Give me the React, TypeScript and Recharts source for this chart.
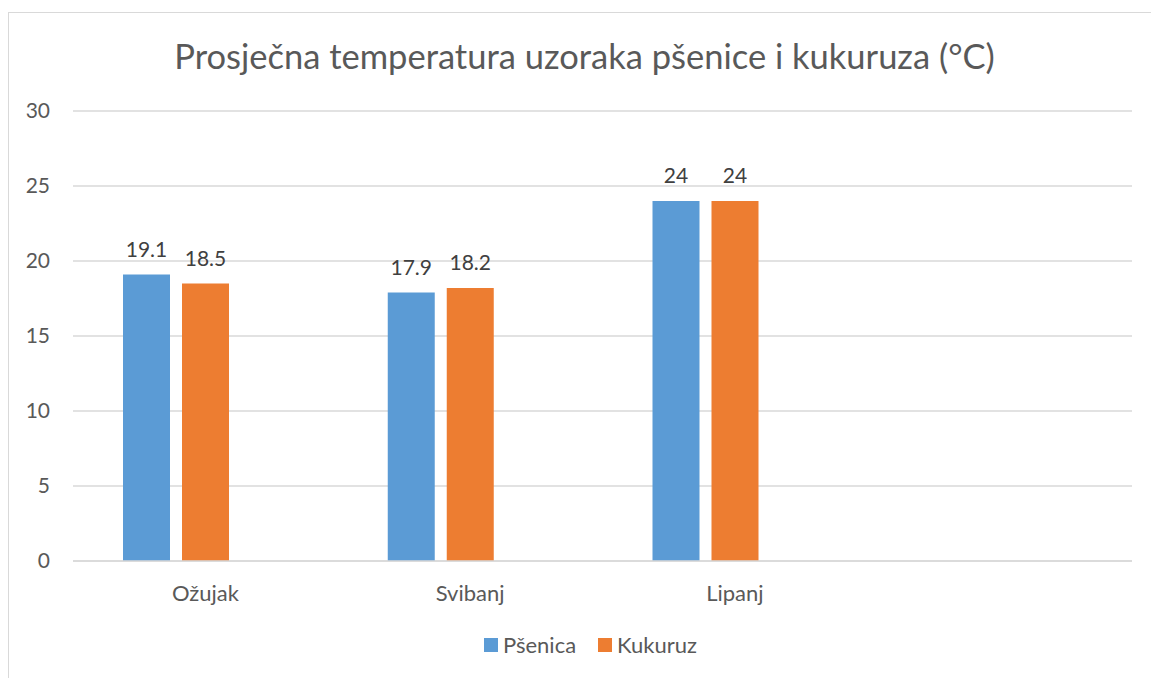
import React from 'react';
import { BarChart, Bar, XAxis, YAxis, CartesianGrid, Legend, LabelList } from 'recharts';

const categories = ['Ožujak', 'Svibanj', 'Lipanj', ''];
const psenica = [19.1, 17.9, 24, null];
const kukuruz = [18.5, 18.2, 24, null];
const prazno = [null, null, null, null];
const yTicks = [0, 5, 10, 15, 20, 25, 30];
const seriesOrder = ['psenica', 'kukuruz'];
const seriesNames = { psenica: 'Pšenica', kukuruz: 'Kukuruz' };
const title = 'Prosječna temperatura uzoraka pšenice i kukuruza (°C)';

const data = categories.map((c, i) => ({
  name: c,
  psenica: psenica[i],
  kukuruz: kukuruz[i],
  prazno: prazno[i],
}));

const FONT = 'Lato, "Open Sans", sans-serif';

const renderLegend = (props: any) => {
  const items = (props.payload || [])
    .filter((p: any) => seriesOrder.includes(p.dataKey))
    .sort((a: any, b: any) => seriesOrder.indexOf(a.dataKey) - seriesOrder.indexOf(b.dataKey));
  return (
    <div style={{ display: 'flex', alignItems: 'center', height: 30, fontFamily: FONT, fontSize: 22, color: '#595959', lineHeight: '30px' }}>
      {items.map((p: any, i: number) => (
        <div key={i} style={{ display: 'flex', alignItems: 'center', marginRight: i < items.length - 1 ? 22 : 0 }}>
          <div style={{ width: 14, height: 14, background: p.color, marginRight: 5 }} />
          <span>{p.value}</span>
        </div>
      ))}
    </div>
  );
};

export default function App() {
  return (
    <div style={{ position: 'absolute', left: 0, top: 0, width: 1151, height: 678, background: '#fff', overflow: 'hidden' }}>
      <div style={{ position: 'absolute', left: 8, top: 12, width: 1200, height: 700, borderLeft: '1px solid #D9D9D9', borderTop: '1px solid #D9D9D9' }} />
      <div style={{ position: 'absolute', left: 0, top: 35, width: 1169, textAlign: 'center', fontFamily: FONT, fontSize: 34.5, fontWeight: 400, color: '#595959', lineHeight: 1.2, whiteSpace: 'nowrap' }}>
        {title}
      </div>
      <div style={{ position: 'absolute', left: 0, top: 0 }}>
        <BarChart
          width={1151}
          height={678}
          data={data}
          margin={{ top: 111, right: 19, left: 0, bottom: 57 }}
          barGap={12}
        >
          <CartesianGrid vertical={false} stroke="#D9D9D9" strokeWidth={1.5} />
          <XAxis
            dataKey="name"
            height={30}
            axisLine={{ stroke: '#D9D9D9', strokeWidth: 1.5 }}
            tickLine={false}
            tickMargin={18}
            tick={{ fill: '#595959', fontSize: 22, fontFamily: FONT }}
            interval={0}
          />
          <YAxis
            width={73}
            domain={[0, 30]}
            ticks={yTicks}
            axisLine={false}
            tickLine={false}
            tickMargin={17}
            tick={{ fill: '#595959', fontSize: 21, fontFamily: FONT }}
          />
          <Legend
            content={renderLegend}
            verticalAlign="bottom"
            wrapperStyle={{ position: 'absolute', left: 484, top: 630, width: 'auto', height: 30 }}
          />
          <Bar dataKey="psenica" name={seriesNames.psenica} fill="#5B9BD5" barSize={47} isAnimationActive={false}>
            <LabelList dataKey="psenica" position="top" offset={18} fill="#404040" fontSize={21} fontFamily={FONT} />
          </Bar>
          <Bar dataKey="kukuruz" name={seriesNames.kukuruz} fill="#ED7D31" barSize={47} isAnimationActive={false}>
            <LabelList dataKey="kukuruz" position="top" offset={18} fill="#404040" fontSize={21} fontFamily={FONT} />
          </Bar>
          <Bar dataKey="prazno" name="" fill="#A5A5A5" barSize={47} legendType="none" isAnimationActive={false} />
        </BarChart>
      </div>
    </div>
  );
}
